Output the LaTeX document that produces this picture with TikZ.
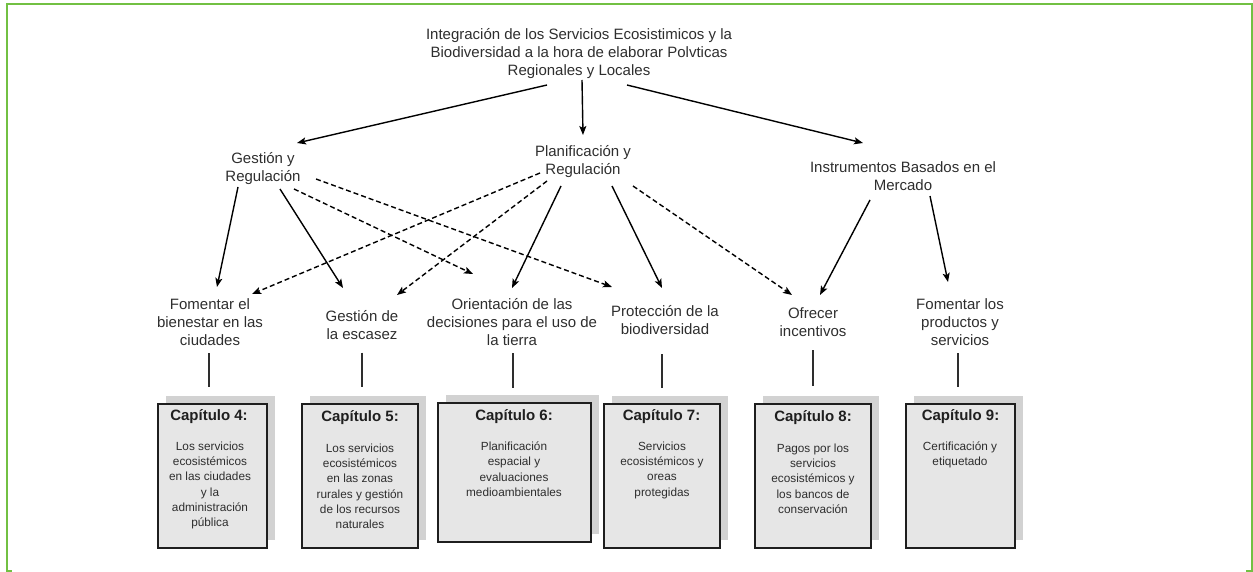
\documentclass[tikz,border=0pt]{standalone}
\usepackage{fontspec}
\setmainfont{Liberation Sans}
\usetikzlibrary{arrows.meta,calc,shadows}
\definecolor{frameg}{HTML}{72C043}
\definecolor{txt}{HTML}{2E2E2E}
\definecolor{boxfill}{HTML}{E6E6E6}
\definecolor{shadowc}{HTML}{D2D2D2}
\definecolor{boxline}{HTML}{1E1E1E}
\begin{document}
\begin{tikzpicture}[x=1pt,y=-1pt,
  lbl/.style={font=\fontsize{15}{18}\selectfont, text=txt, align=center, inner sep=0pt},
  arr/.style={line width=1.4pt, draw=black, -{Stealth[length=9pt,width=7pt,inset=2pt]}},
  darr/.style={arr, dash pattern=on 5pt off 3pt},
  vline/.style={line width=2pt, draw=txt},
  chap/.style={draw=boxline, line width=1.8pt, fill=boxfill, minimum width=#1, minimum height=144pt, inner sep=0pt,
    drop shadow={shadow xshift=8pt, shadow yshift=8.5pt, fill=shadowc, opacity=1}},
  chaptitle/.style={font=\bfseries\fontsize{15}{18}\selectfont, text=black!88, inner sep=0pt},
  chapbody/.style={font=\fontsize{11.8}{15.3}\selectfont, text=txt, align=center, anchor=north, inner sep=0pt},
  frame/.style={draw=frameg, line width=2pt}
]
\useasboundingbox (0,0) rectangle (1253,572);
% frame
\draw[frame] (7,571) -- (7,4.5) -- (1252,4.5) -- (1252,571);
\draw[frame] (6,571) -- (12,571);
\draw[frame] (1246,571) -- (1253,571);

% top node
\node[lbl] (title) at (579,54) {Integración de los Servicios Ecosistimicos y la\\Biodiversidad a la hora de elaborar Polvticas\\Regionales y Locales};

% second level
\node[lbl] (gest) at (263,169) {Gestión y\\Regulación};
\node[lbl] (plan) at (583,162) {Planificación y\\Regulación};
\node[lbl] (inst) at (903,176.5) {Instrumentos Basados en el\\Mercado};

% third level
\node[lbl] (fom1) at (210,322) {Fomentar el\\bienestar en las\\ciudades};
\node[lbl] (esc) at (362,325.5) {Gestión de\\la escasez};
\node[lbl] (ori) at (512,322) {Orientación de las\\decisiones para el uso de\\la tierra};
\node[lbl] (prot) at (665,320) {Protección de la\\biodiversidad};
\node[lbl] (ofr) at (813,322) {Ofrecer\\incentivos};
\node[lbl] (fom2) at (960,322) {Fomentar los\\productos y\\servicios};

% arrows from title
\draw[arr] ($(title)+(-32,31)$) -- ($(gest)+(34,-26)$);
\draw[arr] ($(title)+(3,26)$) -- ($(plan)+(0,-27)$);
\draw[arr] ($(title)+(48,31)$) -- ($(inst)+(-40,-33.5)$);

% from Gestion
\draw[arr] ($(gest)+(-25,18)$) -- ($(fom1)+(7,-35)$);
\draw[arr] ($(gest)+(17,20)$) -- ($(esc)+(-19,-37.5)$);
\draw[darr] ($(gest)+(31,20)$) -- ($(ori)+(-39,-48)$);
\draw[darr] ($(gest)+(53,10)$) -- ($(prot)+(-53,-33)$);

% from Planificacion
\draw[darr] ($(plan)+(-43,11)$) -- ($(fom1)+(42,-28)$);
\draw[darr] ($(plan)+(-36,19)$) -- ($(esc)+(35,-30.5)$);
\draw[arr] ($(plan)+(-22,24)$) -- ($(ori)+(0,-34)$);
\draw[arr] ($(plan)+(29,24)$) -- ($(prot)+(-3,-32)$);
\draw[darr] ($(plan)+(50,24)$) -- ($(ofr)+(-21,-27)$);

% from Instrumentos
\draw[arr] ($(inst)+(-33,23.5)$) -- ($(ofr)+(7,-27)$);
\draw[arr] ($(inst)+(27,19.5)$) -- ($(fom2)+(-12,-40)$);

% chapter boxes
\node[chap=109pt] (c4) at (212.5,476) {};
\node[chap=116pt] (c5) at (360,476) {};
\node[chap=153pt, minimum height=139pt] (c6) at (514.5,472.5) {};
\node[chap=116pt] (c7) at (662,476) {};
\node[chap=116pt] (c8) at (813,476) {};
\node[chap=109pt] (c9) at (960.5,476) {};

% vertical connectors
\draw[vline] ($(fom1)+(-1,31)$) -- ($(c4.north)+(-3.5,-16)$);
\draw[vline] ($(esc)+(0,27)$) -- ($(c5.north)+(2,-16)$);
\draw[vline] ($(ori)+(1,31)$) -- ($(c6.north)+(-1.5,-14)$);
\draw[vline] ($(prot)+(-3,34)$) -- ($(c7.north)+(0,-15)$);
\draw[vline] ($(ofr)+(0,28)$) -- ($(c8.north)+(0,-17)$);
\draw[vline] ($(fom2)+(-2,31)$) -- ($(c9.north)+(-2.5,-16)$);

% chapter titles
\node[chaptitle] (t4) at ($(c4.north)+(-3.5,13)$) {Capítulo 4:};
\node[chaptitle] (t5) at ($(c5.north)+(0,14)$) {Capítulo 5:};
\node[chaptitle] (t6) at ($(c6.north)+(-0.5,14)$) {Capítulo 6:};
\node[chaptitle] (t7) at ($(c7.north)+(-0.5,13)$) {Capítulo 7:};
\node[chaptitle] (t8) at ($(c8.north)+(0,14)$) {Capítulo 8:};
\node[chaptitle] (t9) at ($(c9.north)+(0,13)$) {Capítulo 9:};

% chapter bodies
\node[chapbody] (b4) at ($(c4.north)+(-2.5,38.5)$) {Los servicios\\ecosistémicos\\en las ciudades\\y la\\administración\\pública};
\node[chapbody] (b5) at ($(c5.north)+(0,40.5)$) {Los servicios\\ecosistémicos\\en las zonas\\rurales y gestión\\de los recursos\\naturales};
\node[chapbody] (b6) at ($(c6.north)+(-0.5,39.5)$) {Planificación\\espacial y\\evaluaciones\\medioambientales};
\node[chapbody] (b7) at ($(c7.north)+(0,38.5)$) {Servicios\\ecosistémicos y\\oreas\\protegidas};
\node[chapbody] (b8) at ($(c8.north)+(0,40.5)$) {Pagos por los\\servicios\\ecosistémicos y\\los bancos de\\conservación};
\node[chapbody] (b9) at ($(c9.north)+(-0.5,38.5)$) {Certificación y\\etiquetado};
\end{tikzpicture}
\end{document}
